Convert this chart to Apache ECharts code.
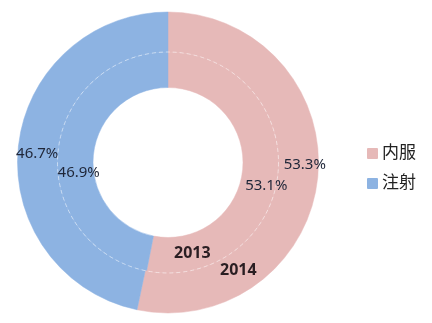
<!DOCTYPE html>
<html><head><meta charset="utf-8">
<script src="https://cdn.jsdelivr.net/npm/echarts@6/dist/echarts.min.js"></script>
<style>html,body{margin:0;padding:0;background:#fff}#c{width:432px;height:323px}</style>
</head><body><div id="c"></div>
<script>
const categories = ['内服', '注射'];
const years = ['2013', '2014'];
const values2013 = [53.1, 46.9];
const values2014 = [53.3, 46.7];
const colors = ['#E6B9B8', '#8DB3E2'];

const chart = echarts.init(document.getElementById('c'));
const font = '"Noto Sans", "Noto Sans CJK SC", sans-serif';
function mk(vals, offsets) {
  return categories.map((n, i) => ({
    name: n, value: vals[i],
    itemStyle: { borderColor: colors[i], borderWidth: 0.5 },
    label: { offset: offsets[i] }
  }));
}
const lbl = { show: true, position: 'inside', formatter: p => p.value.toFixed(1) + '%',
  fontSize: 15, color: '#1f2638', fontFamily: font };
chart.setOption({
  animation: false,
  color: colors,
  legend: {
    orient: 'vertical', left: 362, top: 140, itemGap: 13,
    itemWidth: 9, itemHeight: 9, icon: 'rect',
    data: categories,
    textStyle: { fontSize: 17, color: '#222', fontFamily: font }
  },
  graphic: [
    { type: 'circle', shape: { cx: 168, cy: 162.5, r: 110.5 }, silent: true, z: 10,
      style: { fill: 'none', stroke: 'rgba(255,255,255,0.5)', lineWidth: 1, lineDash: [4, 3] } },
    { type: 'text', left: 174, top: 245, z: 10,
      style: { text: years[0], fontSize: 16, fontWeight: 'bold', fill: '#2a1e22', fontFamily: font } },
    { type: 'text', left: 220, top: 262, z: 10,
      style: { text: years[1], fontSize: 16, fontWeight: 'bold', fill: '#2a1e22', fontFamily: font } }
  ],
  series: [
    {
      name: years[0], type: 'pie', center: [168, 162.5], radius: [75, 110.5],
      startAngle: 90, clockwise: true, avoidLabelOverlap: false,
      label: lbl, labelLine: { show: false },
      emphasis: { disabled: true },
      data: mk(values2013, [[3, 14], [6, 20]])
    },
    {
      name: years[1], type: 'pie', center: [168, 162.5], radius: [110.5, 150.5],
      startAngle: 90, clockwise: true, avoidLabelOverlap: false,
      label: lbl, labelLine: { show: false },
      emphasis: { disabled: true },
      data: mk(values2014, [[4, -12], [2, 5]])
    }
  ]
});
</script></body></html>
